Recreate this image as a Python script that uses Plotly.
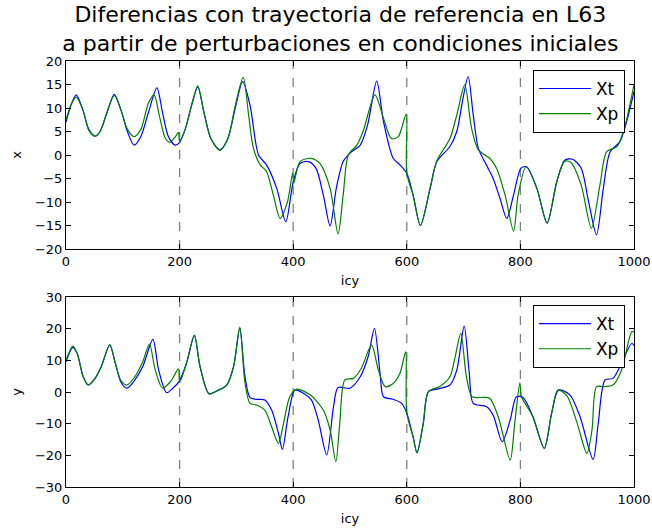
import plotly.graph_objects as go
from plotly.subplots import make_subplots

# ---- data ----
xt_i = [0, 10, 18, 30, 40, 51, 60, 72, 85, 97, 108, 120, 132, 145, 160, 170, 180, 192, 200, 210, 222, 232, 243, 255, 271, 285, 298, 311, 324, 339, 353, 371, 387, 400, 412, 427, 440, 453, 465, 476, 488, 500, 518, 531, 547, 559, 576, 588, 600, 611, 624, 641, 653, 676, 688, 699, 708, 717, 726, 740, 752, 764, 776, 788, 801, 811, 829, 847, 864, 878, 892, 907, 920, 934, 946, 958, 975, 987, 1000]
xt_v = [7.0, 11.0, 12.8, 9.5, 5.5, 4.0, 5.0, 9.0, 12.9, 9.5, 5.0, 2.1, 4.0, 9.0, 14.3, 9.0, 4.0, 2.1, 2.7, 5.5, 11.0, 14.5, 9.0, 3.5, 1.1, 3.5, 10.0, 15.6, 10.6, 0.0, -2.1, -7.1, -14.2, -5.7, -1.8, -1.4, -2.8, -8.5, -15.1, -7.0, -1.4, 0.4, 2.1, 6.4, 15.7, 7.1, -0.7, -2.1, -3.9, -8.5, -15.0, -7.1, -1.4, 1.8, 5.0, 12.1, 16.7, 8.5, 1.4, -2.1, -5.0, -9.2, -13.5, -8.5, -2.8, -2.5, -7.1, -14.5, -5.7, -1.1, -0.9, -2.8, -9.9, -17.0, -7.1, 0.7, 2.8, 7.1, 13.5]

xp_i = [0, 10, 18, 30, 40, 51, 60, 72, 85, 97, 108, 120, 132, 145, 155, 165, 175, 183, 192, 198, 200, 210, 222, 232, 243, 255, 271, 285, 298, 312, 322, 330, 342, 353, 365, 377, 390, 399, 401, 412, 431, 447, 465, 479, 488, 497, 512, 523, 544, 559, 573, 585, 599, 600, 611, 624, 641, 653, 676, 688, 702, 714, 726, 746, 758, 773, 788, 796, 810, 829, 847, 864, 878, 889, 907, 925, 940, 952, 970, 983, 1000]
xp_v = [7.5, 11.0, 12.3, 9.5, 5.3, 4.0, 5.0, 9.0, 12.7, 9.5, 5.5, 3.9, 5.5, 11.0, 12.8, 8.0, 3.5, 2.7, 3.8, 4.8, 3.0, 5.5, 11.0, 14.7, 9.0, 3.5, 1.0, 3.5, 10.5, 16.5, 8.0, 1.4, -2.1, -3.5, -8.5, -13.5, -9.9, -3.9, -6.0, -1.4, -0.7, -1.8, -7.1, -16.8, -8.5, 0.0, 2.1, 5.0, 12.8, 7.8, 3.5, 3.9, 8.7, -3.9, -8.5, -15.0, -7.1, -1.2, 3.5, 8.5, 14.9, 5.7, 1.1, -0.7, -2.8, -8.5, -16.2, -8.5, -2.5, -7.1, -14.5, -5.7, -1.3, -1.6, -6.4, -15.6, -6.4, 0.7, 1.8, 5.7, 15.0]

yt_i = [0, 12, 20, 30, 39, 50, 62, 77, 87, 97, 107, 120, 135, 153, 163, 177, 188, 199, 212, 226, 236, 252, 267, 283, 295, 306, 315, 324, 335, 350, 362, 374, 381, 391, 403, 418, 432, 444, 459, 471, 479, 500, 518, 532, 543, 553, 559, 576, 591, 600, 611, 618, 629, 638, 653, 676, 688, 701, 710, 717, 740, 752, 768, 782, 793, 805, 822, 842, 855, 867, 887, 905, 928, 937, 949, 963, 978, 996, 1000]
yt_v = [9.5, 14.1, 12.0, 5.0, 2.2, 4.0, 8.0, 14.8, 9.0, 3.0, 1.2, 3.5, 8.0, 16.6, 7.0, -0.2, 1.2, 3.3, 9.0, 17.8, 8.0, -0.6, 0.5, 2.2, 8.0, 20.1, 5.0, -1.8, -2.3, -2.5, -5.7, -13.0, -18.1, -7.8, 0.6, -0.4, -2.5, -8.8, -19.9, -4.6, 1.4, 1.2, 4.8, 11.2, 20.1, 5.9, -1.5, -2.3, -3.6, -6.7, -14.1, -19.2, -9.9, 0.1, 0.9, 2.2, 6.9, 20.8, 5.9, -3.6, -4.6, -7.3, -15.7, -8.8, -1.5, -1.8, -7.8, -17.8, -6.7, 0.6, -0.9, -7.8, -21.3, -9.9, 3.8, 4.3, 9.1, 15.4, 14.6]

yp_i = [0, 12, 20, 30, 39, 50, 62, 77, 87, 97, 107, 120, 135, 147, 157, 170, 185, 198, 200, 212, 226, 236, 252, 267, 283, 295, 306, 315, 324, 335, 350, 362, 374, 383, 394, 406, 430, 453, 465, 475, 482, 491, 506, 520, 538, 550, 562, 576, 588, 598, 600, 611, 618, 629, 638, 658, 676, 685, 695, 705, 715, 735, 746, 761, 782, 790, 799, 802, 822, 842, 855, 866, 882, 900, 917, 926, 934, 946, 963, 978, 996, 1000]
yp_v = [10.0, 14.5, 12.0, 5.0, 2.3, 4.0, 8.0, 15.0, 9.0, 3.5, 2.2, 4.5, 9.5, 15.1, 7.0, 1.2, 3.5, 7.3, 3.0, 9.0, 18.0, 8.0, -0.6, 0.5, 2.2, 8.0, 20.5, 3.0, -3.6, -4.1, -5.7, -11.0, -16.2, -9.9, -1.5, 0.9, -0.9, -5.7, -12.0, -22.0, -9.9, 3.8, 4.3, 7.5, 14.8, 6.9, 1.7, 2.7, 5.9, 12.7, -6.7, -14.1, -19.2, -9.9, 0.1, 1.7, 4.8, 11.0, 18.5, 4.8, -1.5, -1.7, -2.0, -7.8, -21.5, -9.9, 2.9, -1.5, -7.8, -17.8, -6.7, 0.6, -1.2, -9.9, -19.4, -12.0, 1.7, 1.7, 2.2, 6.9, 19.0, 19.0]

vlines = [200, 400, 600, 800]
x_ticks = [0, 200, 400, 600, 800, 1000]
top_ticks = [-20, -15, -10, -5, 0, 5, 10, 15, 20]
bot_ticks = [-30, -20, -10, 0, 10, 20, 30]

BLUE = "#0000ff"
GREEN = "#008000"
FONT = "DejaVu Sans"

fig = make_subplots(rows=2, cols=1)

fig.add_trace(go.Scatter(x=xt_i, y=xt_v, name="Xt", mode="lines",
                         line=dict(color=BLUE, width=1.2, shape="spline", smoothing=0.8),
                         legend="legend"), row=1, col=1)
fig.add_trace(go.Scatter(x=xp_i, y=xp_v, name="Xp", mode="lines",
                         line=dict(color=GREEN, width=1.2, shape="spline", smoothing=0.8),
                         legend="legend"), row=1, col=1)
fig.add_trace(go.Scatter(x=yt_i, y=yt_v, name="Xt", mode="lines",
                         line=dict(color=BLUE, width=1.2, shape="spline", smoothing=0.8),
                         legend="legend2"), row=2, col=1)
fig.add_trace(go.Scatter(x=yp_i, y=yp_v, name="Xp", mode="lines",
                         line=dict(color=GREEN, width=1.2, shape="spline", smoothing=0.8),
                         legend="legend2"), row=2, col=1)

for xr, yr in (("x", "y"), ("x2", "y2")):
    for v in vlines:
        fig.add_shape(type="line", xref=xr, yref=f"{yr} domain", x0=v, x1=v, y0=0, y1=1,
                      line=dict(color="#808080", width=1.3, dash="dash"), layer="below")

axis_common = dict(showgrid=False, zeroline=False, showline=True, linecolor="black",
                   linewidth=1, mirror="allticks", ticks="inside", ticklen=5,
                   automargin=False,
                   tickcolor="black", tickfont=dict(family=FONT, size=13, color="black"))

fig.update_xaxes(**axis_common, range=[0, 1000], tickvals=x_ticks,
                 title=dict(text="icy", font=dict(family=FONT, size=13, color="black"), standoff=8))
fig.update_yaxes(**axis_common)
fig.update_yaxes(range=[-20, 20], tickvals=top_ticks, row=1, col=1,
                 title=dict(text="x", font=dict(family=FONT, size=13, color="black"), standoff=10))
fig.update_yaxes(range=[-30, 30], tickvals=bot_ticks, row=2, col=1,
                 title=dict(text="y", font=dict(family=FONT, size=13, color="black"), standoff=10))

legend_style = dict(xanchor="right", yanchor="top", bordercolor="black", borderwidth=1,
                    bgcolor="white", itemwidth=52,
                    font=dict(family=FONT, size=17, color="black"))

fig.update_layout(
    width=652, height=531,
    margin=dict(l=66, r=18, t=61, b=44, autoexpand=False),
    paper_bgcolor="white", plot_bgcolor="white",
    font=dict(family=FONT, color="black"),
    title=dict(text="Diferencias con trayectoria de referencia en L63<br>a partir de perturbaciones en condiciones iniciales",
               x=0.522, xanchor="center", yref="container", y=0.958, yanchor="middle",
               automargin=False,
               font=dict(family=FONT, size=22, color="black")),
    xaxis=dict(domain=[0, 1]), xaxis2=dict(domain=[0, 1]),
    yaxis=dict(domain=[0.5587, 1.0]), yaxis2=dict(domain=[0.0, 0.446]),
    legend=dict(x=0.984, y=0.979, **legend_style),
    legend2=dict(x=0.984, y=0.427, **legend_style),
    showlegend=True,
)

fig.write_html("out.html")
